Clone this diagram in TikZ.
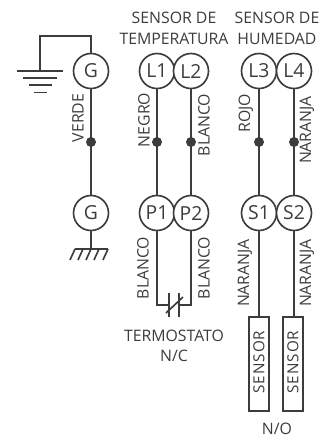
\documentclass[tikz,border=0pt]{standalone}
\usepackage{fontspec}
\setmainfont{Open Sans}
\definecolor{wire}{RGB}{60,60,60}
\tikzset{
    term/.style={draw=wire, line width=1.4pt, circle, fill=white, minimum size=1.05cm, inner sep=0pt, text=wire, font=\fontsize{16.5}{17}\selectfont},
    junc/.style={fill=wire, circle, minimum size=0.3cm, inner sep=0pt},
    lab/.style={text=wire, inner sep=0pt, font=\fontsize{13.5}{14}\selectfont},
    vlab/.style={lab, rotate=90},
    probe/.style={draw=wire, line width=1.7pt, fill=white, minimum width=0.58cm, minimum height=2.8cm, inner sep=0pt},
}
\begin{document}
\begin{tikzpicture}[x=0.03cm, y=-0.03cm, line width=1.4pt, draw=wire]
    \useasboundingbox (0, 0) rectangle (328, 438);

    % headings
    \node[lab] (headA) at (174, 18) {SENSOR DE};
    \node[lab] (headB) at (174, 39) {TEMPERATURA};
    \node[lab] (headC) at (277, 18) {SENSOR DE};
    \node[lab] (headD) at (277, 39) {HUMEDAD};

    % wires first, terminals go on top
    \coordinate (gndT) at (40, 71);
    \coordinate (gndK) at (40, 36);
    \coordinate (chas) at (91, 249);
    \coordinate (swL) at (169, 305);
    \coordinate (swR) at (179, 305);

    \node[term] (G1) at (91, 71) {G};
    \node[term] (L1) at (157, 71) {L1};
    \node[term] (L2) at (191, 71) {L2};
    \node[term] (L3) at (259, 71) {L3};
    \node[term] (L4) at (294, 71) {L4};

    \node[term] (G2) at (91, 213) {G};
    \node[term] (P1) at (157, 213) {P1};
    \node[term] (P2) at (191, 213) {P2};
    \node[term] (S1) at (259, 213) {S1};
    \node[term] (S2) at (294, 213) {S2};

    \node[probe] (probeA) at (259, 364) {};
    \node[probe] (probeB) at (293, 364) {};
    \node[vlab, font=\fontsize{13}{14}\selectfont\addfontfeature{LetterSpace=6}] (txtA) at (259, 362) {SENSOR};
    \node[vlab, font=\fontsize{13}{14}\selectfont\addfontfeature{LetterSpace=6}] (txtB) at (293, 362) {SENSOR};

    \draw (G1) -- (G2);
    \draw (L1) -- (P1);
    \draw (L2) -- (P2);
    \draw (L3) -- (S1);
    \draw (L4) -- (S2);
    \draw (S1) -- (probeA.north -| S1);
    \draw (S2) -- (probeB.north -| S2);

    \node[junc] (d1) at (91, 142) {};
    \node[junc] (d2) at (157, 142) {};
    \node[junc] (d3) at (191, 142) {};
    \node[junc] (d4) at (259, 142) {};
    \node[junc] (d5) at (294, 142) {};

    % earth
    \draw (G1) -- (gndK -| G1) -- (gndK) -- (gndT);
    \draw (17, 71) -- (63, 71);
    \draw (23, 78) -- (57, 78);
    \draw (29, 85) -- (52, 85);
    \draw (34, 92.5) -- (47, 92.5);

    % chassis
    \draw (G2) -- (chas);
    \draw (75, 249) -- (108, 249);
    \draw (75, 249) -- (70, 260);
    \draw (83, 249) -- (78, 260);
    \draw (91, 249) -- (86, 260);
    \draw (99, 249) -- (94, 260);
    \draw (108, 249) -- (103, 260);

    % thermostat
    \draw (P1) -- (swL -| P1) -- (swL);
    \draw (P2) -- (swR -| P2) -- (swR);
    \draw (169, 293) -- (169, 317);
    \draw (179, 293) -- (179, 317);
    \draw (166, 313) -- (183, 297);

    % wire colours
    \node[vlab] (c1) at (78, 118) {VERDE};
    \node[vlab] (c2) at (144, 120) {NEGRO};
    \node[vlab] (c3) at (204, 125) {BLANCO};
    \node[vlab] (c4) at (246, 113) {ROJO};
    \node[vlab] (c5) at (307, 130) {NARANJA};
    \node[vlab] (c6) at (143, 268) {BLANCO};
    \node[vlab] (c7) at (204, 268) {BLANCO};
    \node[vlab] (c8) at (245, 273) {NARANJA};
    \node[vlab] (c9) at (307, 273) {NARANJA};

    \node[lab] (termo) at (174, 336) {TERMOSTATO};
    \node[lab] (nc) at (174, 356) {N/C};
    \node[lab] (no) at (277, 429) {N/O};
\end{tikzpicture}
\end{document}
